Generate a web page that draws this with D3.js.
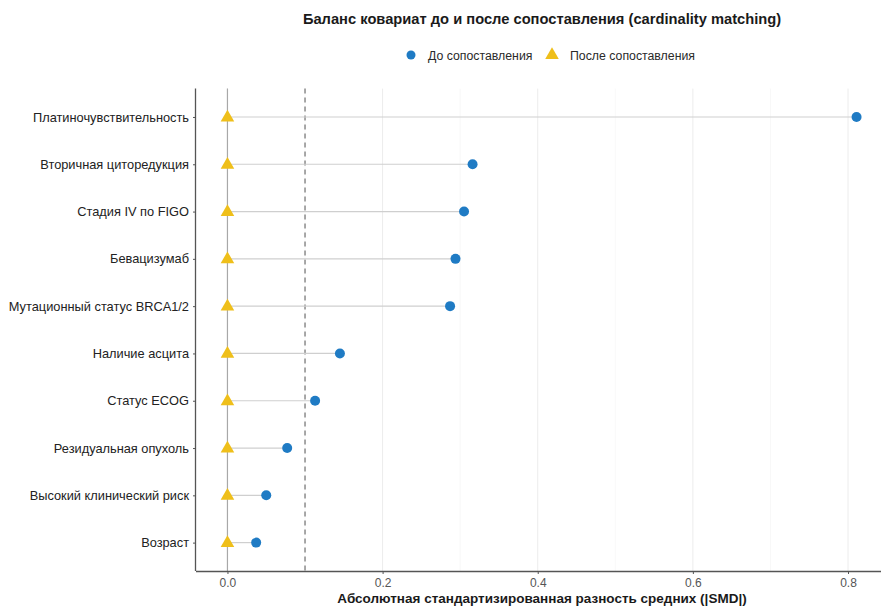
<!DOCTYPE html>
<html>
<head>
<meta charset="utf-8">
<script src="https://cdn.jsdelivr.net/npm/d3@7"></script>
<style>
  html, body { margin: 0; padding: 0; background: #fff; }
  svg { display: block; font-family: "Liberation Sans", Arial, sans-serif; }
</style>
</head>
<body>
<svg id="chart" width="881" height="606"></svg>
<script>
// Covariates, top to bottom
const covariates = [
  "Платиночувствительность",
  "Вторичная циторедукция",
  "Стадия IV по FIGO",
  "Бевацизумаб",
  "Мутационный статус BRCA1/2",
  "Наличие асцита",
  "Статус ECOG",
  "Резидуальная опухоль",
  "Высокий клинический риск",
  "Возраст"
];
// |SMD| before matching
const smdBefore = [0.811, 0.316, 0.305, 0.294, 0.287, 0.145, 0.113, 0.077, 0.050, 0.037];
// |SMD| after matching
const smdAfter = [0, 0, 0, 0, 0, 0, 0, 0, 0, 0];
const xTicks = [0.0, 0.2, 0.4, 0.6, 0.8];
const minorTicks = [0.1, 0.3, 0.5, 0.7];
const threshold = 0.1;

const seriesNames = ["До сопоставления", "После сопоставления"];
const colBefore = "#1f7bc4";
const colAfter = "#efbf1a";

const svg = d3.select("#chart");
const panel = { left: 196, right: 888, top: 88.6, bottom: 571 };

const dataMax = d3.max(smdBefore);
const pad = dataMax * 0.05;
const x = d3.scaleLinear().domain([-pad, dataMax + pad]).range([panel.left, panel.right]);
const y = d3.scalePoint().domain(covariates).range([panel.top, panel.bottom]).padding(0.6);

const rows = covariates.map((c, i) => ({ c, before: smdBefore[i], after: smdAfter[i] }));

// grid
const g = svg.append("g");
g.selectAll(".minor").data(minorTicks).join("line")
  .attr("x1", d => x(d)).attr("x2", d => x(d))
  .attr("y1", panel.top).attr("y2", panel.bottom)
  .attr("stroke", "#f4f4f4").attr("stroke-width", 0.6);
g.selectAll(".major").data(xTicks).join("line")
  .attr("x1", d => x(d)).attr("x2", d => x(d))
  .attr("y1", panel.top).attr("y2", panel.bottom)
  .attr("stroke", "#ececec").attr("stroke-width", 1);

// zero reference line
g.append("line")
  .attr("x1", x(0)).attr("x2", x(0))
  .attr("y1", panel.top).attr("y2", panel.bottom)
  .attr("stroke", "#a8a8a8").attr("stroke-width", 1.2);

// threshold line
g.append("line")
  .attr("x1", x(threshold)).attr("x2", x(threshold))
  .attr("y1", panel.top).attr("y2", panel.bottom)
  .attr("stroke", "#7a7a7a").attr("stroke-width", 1.3)
  .attr("stroke-dasharray", "5,4");

// segments
g.selectAll(".seg").data(rows).join("line")
  .attr("x1", d => x(d.after)).attr("x2", d => x(d.before))
  .attr("y1", d => y(d.c)).attr("y2", d => y(d.c))
  .attr("stroke", "#cfcfcf").attr("stroke-width", 1.2);

// before points
g.selectAll(".pt").data(rows).join("circle")
  .attr("cx", d => x(d.before)).attr("cy", d => y(d.c))
  .attr("r", 5).attr("fill", colBefore);

// after triangles
const tri = d3.symbol().type(d3.symbolTriangle).size(80);
g.selectAll(".tri").data(rows).join("path")
  .attr("d", tri)
  .attr("transform", d => `translate(${x(d.after)},${y(d.c) + 0.5})`)
  .attr("fill", colAfter);

// axes
const xAxis = d3.axisBottom(x).tickValues(xTicks).tickFormat(d3.format(".1f")).tickSize(3).tickPadding(4);
const xa = svg.append("g").attr("transform", `translate(0,${panel.bottom})`).call(xAxis);
xa.select(".domain").attr("stroke", "#555").attr("stroke-width", 1.3).attr("d", `M${panel.left},0.5H${panel.right}`);
xa.selectAll(".tick line").attr("stroke", "#555");
xa.selectAll(".tick text").attr("fill", "#555").attr("font-size", 12);

const yAxis = d3.axisLeft(y).tickSize(3).tickPadding(4);
const ya = svg.append("g").attr("transform", `translate(${panel.left},0)`).call(yAxis);
ya.select(".domain").attr("stroke", "#555").attr("stroke-width", 1.3).attr("d", `M-0.5,${panel.top}V${panel.bottom}`);
ya.selectAll(".tick line").attr("stroke", "#555");
ya.selectAll(".tick text").attr("fill", "#222").attr("font-size", 12.8);

// titles
const cx = (panel.left + panel.right) / 2;
svg.append("text").attr("x", cx).attr("y", 24).attr("text-anchor", "middle")
  .attr("font-size", 14.7).attr("font-weight", "bold").attr("fill", "#1a1a1a")
  .text("Баланс ковариат до и после сопоставления (cardinality matching)");
svg.append("text").attr("x", cx).attr("y", 603).attr("text-anchor", "middle")
  .attr("font-size", 13.5).attr("font-weight", "bold").attr("fill", "#1a1a1a")
  .text("Абсолютная стандартизированная разность средних (|SMD|)");

// legend
const leg = svg.append("g").attr("transform", "translate(0,55)");
leg.append("circle").attr("cx", 411).attr("cy", 0).attr("r", 4.5).attr("fill", colBefore);
leg.append("text").attr("x", 428).attr("y", 4.5).attr("font-size", 12.3).attr("fill", "#2a2a2a").text(seriesNames[0]);
leg.append("path").attr("d", tri).attr("transform", "translate(552,0)").attr("fill", colAfter);
leg.append("text").attr("x", 570).attr("y", 4.5).attr("font-size", 12.3).attr("fill", "#2a2a2a").text(seriesNames[1]);
</script>
</body>
</html>
